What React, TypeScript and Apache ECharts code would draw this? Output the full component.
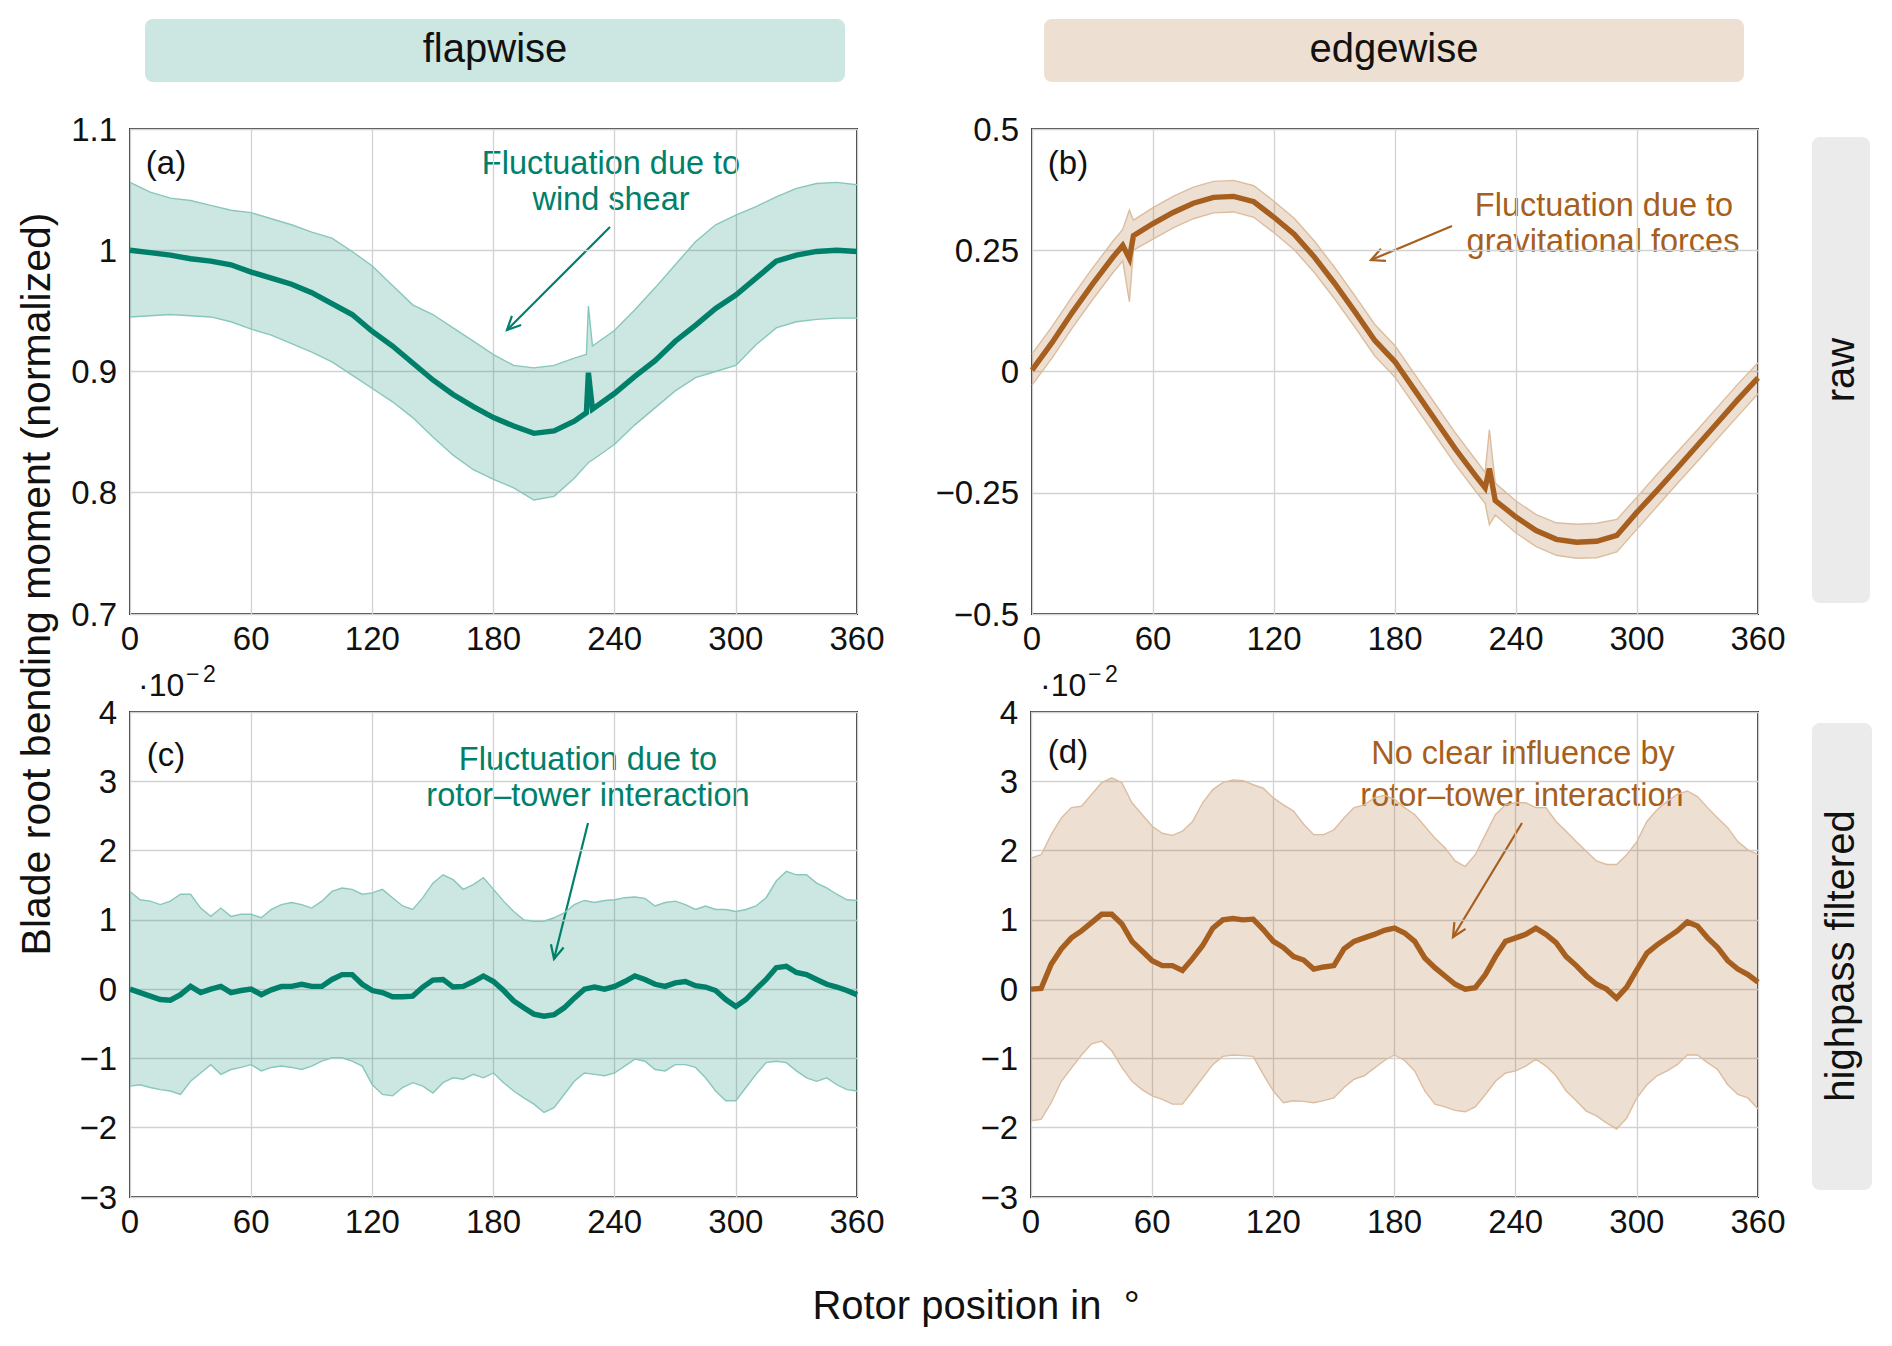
import React, { useEffect, useRef } from 'react';
import * as echarts from 'echarts';

// ---- data ----
const aAngles = [0, 10, 20, 30, 40, 50, 60, 70, 80, 90, 100, 110, 120, 130, 140, 150, 160, 170, 180, 190, 200, 210, 220, 226, 227, 229, 240, 250, 260, 270, 280, 290, 300, 310, 320, 330, 340, 350, 360];
const aMean = [1.0, 0.998, 0.996, 0.993, 0.991, 0.988, 0.982, 0.977, 0.972, 0.965, 0.956, 0.947, 0.933, 0.921, 0.907, 0.893, 0.881, 0.871, 0.862, 0.855, 0.849, 0.851, 0.859, 0.866, 0.899, 0.869, 0.882, 0.896, 0.909, 0.925, 0.938, 0.952, 0.963, 0.977, 0.991, 0.996, 0.999, 1.0, 0.999];
const aUpper = [1.056, 1.048, 1.043, 1.041, 1.037, 1.033, 1.031, 1.026, 1.021, 1.015, 1.01, 0.999, 0.987, 0.971, 0.955, 0.947, 0.936, 0.925, 0.914, 0.905, 0.903, 0.905, 0.911, 0.914, 0.954, 0.921, 0.934, 0.951, 0.969, 0.988, 1.007, 1.021, 1.029, 1.036, 1.044, 1.051, 1.055, 1.056, 1.054];
const aLower = [0.945, 0.946, 0.947, 0.946, 0.945, 0.941, 0.935, 0.93, 0.923, 0.916, 0.908, 0.897, 0.886, 0.875, 0.862, 0.846, 0.831, 0.819, 0.811, 0.804, 0.794, 0.797, 0.812, 0.823, 0.825, 0.827, 0.84, 0.856, 0.87, 0.884, 0.895, 0.9, 0.905, 0.922, 0.936, 0.941, 0.943, 0.944, 0.944];

const bAngles = [0, 10, 20, 30, 40, 45, 48.3, 50.3, 60, 70, 80, 90, 100, 110, 120, 130, 140, 150, 160, 170, 180, 190, 200, 210, 220, 224.7, 226.8, 229.7, 240, 250, 260, 270, 280, 290, 300, 310, 320, 330, 340, 350, 360];
const bMean = [0.003, 0.06, 0.122, 0.18, 0.235, 0.26, 0.233, 0.28, 0.305, 0.328, 0.347, 0.359, 0.361, 0.35, 0.318, 0.283, 0.236, 0.182, 0.124, 0.064, 0.02, -0.04, -0.1, -0.16, -0.215, -0.24, -0.2, -0.266, -0.3, -0.328, -0.346, -0.352, -0.35, -0.338, -0.29, -0.245, -0.199, -0.152, -0.105, -0.058, -0.013];
const bUpper = [0.036, 0.093, 0.155, 0.213, 0.268, 0.293, 0.333, 0.312, 0.338, 0.361, 0.38, 0.392, 0.394, 0.383, 0.351, 0.316, 0.269, 0.215, 0.157, 0.097, 0.053, -0.007, -0.067, -0.127, -0.182, -0.208, -0.12, -0.23, -0.267, -0.295, -0.312, -0.315, -0.313, -0.305, -0.259, -0.212, -0.166, -0.12, -0.073, -0.026, 0.018];
const bLower = [-0.028, 0.028, 0.09, 0.148, 0.203, 0.228, 0.144, 0.25, 0.273, 0.296, 0.315, 0.327, 0.329, 0.318, 0.286, 0.251, 0.204, 0.15, 0.092, 0.032, -0.012, -0.072, -0.132, -0.192, -0.247, -0.272, -0.316, -0.296, -0.333, -0.361, -0.379, -0.385, -0.384, -0.372, -0.325, -0.278, -0.231, -0.185, -0.138, -0.092, -0.046];

const cdAngles = [0, 5, 10, 15, 20, 25, 30, 35, 40, 45, 50, 55, 60, 65, 70, 75, 80, 85, 90, 95, 100, 105, 110, 115, 120, 125, 130, 135, 140, 145, 150, 155, 160, 165, 170, 175, 180, 185, 190, 195, 200, 205, 210, 215, 220, 225, 230, 235, 240, 245, 250, 255, 260, 265, 270, 275, 280, 285, 290, 295, 300, 305, 310, 315, 320, 325, 330, 335, 340, 345, 350, 355, 360];
// panel (c) and (d) values are in units of 1e-2
const cMean = [0.0, -0.05, -0.1, -0.15, -0.16, -0.08, 0.04, -0.05, 0.0, 0.04, -0.05, -0.02, 0.0, -0.08, -0.01, 0.04, 0.04, 0.07, 0.04, 0.04, 0.14, 0.21, 0.21, 0.07, -0.02, -0.05, -0.11, -0.11, -0.1, 0.03, 0.13, 0.14, 0.03, 0.04, 0.11, 0.19, 0.11, -0.02, -0.17, -0.27, -0.36, -0.39, -0.37, -0.27, -0.13, 0.0, 0.03, 0.0, 0.04, 0.11, 0.19, 0.14, 0.07, 0.04, 0.09, 0.11, 0.05, 0.03, -0.02, -0.15, -0.25, -0.15, 0.0, 0.14, 0.31, 0.33, 0.24, 0.21, 0.14, 0.07, 0.03, -0.02, -0.08];
const cUpper = [1.41, 1.29, 1.27, 1.22, 1.27, 1.37, 1.37, 1.17, 1.05, 1.17, 1.05, 1.08, 1.08, 1.03, 1.15, 1.22, 1.25, 1.22, 1.17, 1.27, 1.41, 1.46, 1.44, 1.37, 1.39, 1.44, 1.32, 1.2, 1.15, 1.32, 1.53, 1.65, 1.58, 1.44, 1.51, 1.61, 1.44, 1.27, 1.12, 1.0, 0.98, 0.98, 1.03, 1.1, 1.22, 1.28, 1.25, 1.28, 1.29, 1.32, 1.33, 1.31, 1.2, 1.25, 1.27, 1.22, 1.15, 1.2, 1.15, 1.15, 1.12, 1.15, 1.2, 1.32, 1.56, 1.7, 1.65, 1.65, 1.53, 1.46, 1.37, 1.29, 1.28];
const cLower = [-1.4, -1.38, -1.42, -1.45, -1.47, -1.52, -1.33, -1.21, -1.09, -1.23, -1.16, -1.13, -1.09, -1.18, -1.13, -1.11, -1.13, -1.16, -1.11, -1.04, -0.99, -0.99, -1.04, -1.11, -1.38, -1.52, -1.54, -1.42, -1.35, -1.4, -1.5, -1.35, -1.28, -1.3, -1.23, -1.28, -1.21, -1.35, -1.47, -1.57, -1.66, -1.78, -1.71, -1.52, -1.33, -1.21, -1.23, -1.25, -1.21, -1.11, -1.01, -1.04, -1.16, -1.18, -1.09, -1.09, -1.13, -1.28, -1.47, -1.61, -1.61, -1.42, -1.23, -1.06, -1.04, -1.06, -1.18, -1.28, -1.33, -1.28, -1.38, -1.45, -1.47];
const dMean = [0.0, 0.01, 0.36, 0.58, 0.74, 0.84, 0.96, 1.08, 1.08, 0.94, 0.69, 0.55, 0.41, 0.34, 0.34, 0.27, 0.44, 0.63, 0.88, 1.0, 1.02, 1.0, 1.01, 0.86, 0.69, 0.6, 0.47, 0.42, 0.29, 0.32, 0.34, 0.58, 0.69, 0.74, 0.79, 0.85, 0.88, 0.81, 0.69, 0.45, 0.31, 0.19, 0.07, 0.0, 0.02, 0.21, 0.47, 0.69, 0.74, 0.79, 0.88, 0.79, 0.67, 0.47, 0.34, 0.19, 0.07, 0.0, -0.13, 0.03, 0.28, 0.52, 0.64, 0.74, 0.84, 0.97, 0.91, 0.74, 0.6, 0.41, 0.29, 0.21, 0.1];
const dUpper = [1.89, 1.94, 2.23, 2.47, 2.62, 2.64, 2.81, 2.98, 3.05, 2.98, 2.69, 2.52, 2.35, 2.25, 2.22, 2.28, 2.42, 2.69, 2.88, 2.98, 3.02, 3.01, 2.95, 2.9, 2.76, 2.66, 2.57, 2.38, 2.23, 2.23, 2.3, 2.47, 2.62, 2.66, 2.76, 2.8, 2.74, 2.62, 2.52, 2.35, 2.18, 2.04, 1.85, 1.77, 1.94, 2.23, 2.52, 2.66, 2.69, 2.69, 2.62, 2.62, 2.42, 2.28, 2.13, 1.99, 1.85, 1.8, 1.8, 1.94, 2.13, 2.42, 2.59, 2.71, 2.81, 2.86, 2.78, 2.62, 2.47, 2.33, 2.13, 2.01, 1.94];
const dLower = [-1.9, -1.88, -1.64, -1.33, -1.14, -0.95, -0.79, -0.75, -0.89, -1.13, -1.33, -1.45, -1.54, -1.59, -1.66, -1.66, -1.47, -1.28, -1.09, -0.97, -0.95, -0.96, -0.97, -1.23, -1.47, -1.64, -1.61, -1.62, -1.64, -1.61, -1.57, -1.42, -1.3, -1.25, -1.14, -1.03, -0.95, -1.03, -1.18, -1.47, -1.66, -1.7, -1.75, -1.77, -1.7, -1.52, -1.33, -1.21, -1.18, -1.11, -1.01, -1.11, -1.25, -1.47, -1.61, -1.76, -1.83, -1.93, -2.02, -1.86, -1.57, -1.38, -1.25, -1.18, -1.09, -0.95, -0.95, -1.06, -1.16, -1.38, -1.52, -1.57, -1.73];

const xTicks = { min: 0, max: 360, interval: 60 };
const yTicksA = { min: 0.7, max: 1.1, interval: 0.1 };
const yTicksB = { min: -0.5, max: 0.5, interval: 0.25 };
const yTicksCD = { min: -3, max: 4, interval: 1 };

const FONT = "'Liberation Sans', Arial, Helvetica, sans-serif";
const TEAL = '#00806a';
const TEAL_FILL = 'rgba(0,128,106,0.2)';
const TEAL_EDGE = '#88c7bc';
const BROWN = '#a65f1e';
const BROWN_FILL = 'rgba(166,95,30,0.2)';
const BROWN_EDGE = '#dcbd9f';

const pts = (xs: number[], ys: number[]) => xs.map((x, i) => [x, ys[i]]);
const minusFmt = (v: number) => (v < 0 ? '\u2212' + String(Math.abs(v)) : String(v));

const bandSeries = (idx: number, xs: number[], lo: number[], hi: number[], fill: string, edge: string) => ({
  type: 'custom',
  xAxisIndex: idx,
  yAxisIndex: idx,
  data: [[0, 0]],
  silent: true,
  z: 1,
  renderItem: (_p: any, api: any) => {
    const up = xs.map((x, i) => api.coord([x, hi[i]]));
    const dn = xs.map((x, i) => api.coord([x, lo[i]]));
    return {
      type: 'group',
      children: [
        { type: 'polygon', shape: { points: up.concat(dn.slice().reverse()) }, style: { fill, stroke: 'none' } },
        { type: 'polyline', shape: { points: up }, style: { stroke: edge, lineWidth: 1.4, fill: 'none' } },
        { type: 'polyline', shape: { points: dn }, style: { stroke: edge, lineWidth: 1.4, fill: 'none' } },
      ],
    };
  },
});

const meanSeries = (idx: number, xs: number[], ys: number[], color: string) => ({
  type: 'line',
  xAxisIndex: idx,
  yAxisIndex: idx,
  data: pts(xs, ys),
  symbol: 'none',
  showSymbol: false,
  silent: true,
  z: 3,
  lineStyle: { color, width: 5.4, join: 'miter' },
});

const arrow = (x1: number, y1: number, x2: number, y2: number, color: string) => {
  const a = Math.atan2(y2 - y1, x2 - x1);
  const L = 15;
  const s = 0.45;
  return {
    type: 'group',
    children: [
      { type: 'line', shape: { x1, y1, x2, y2 }, style: { stroke: color, lineWidth: 2.2 } },
      {
        type: 'polyline',
        shape: {
          points: [
            [x2 - L * Math.cos(a - s), y2 - L * Math.sin(a - s)],
            [x2, y2],
            [x2 - L * Math.cos(a + s), y2 - L * Math.sin(a + s)],
          ],
        },
        style: { stroke: color, lineWidth: 2.2, fill: 'none' },
      },
    ],
  };
};

const txt = (x: number, y: number, text: string, size: number, color = '#111', extra: any = {}) => ({
  type: 'text',
  x,
  y,
  ...extra,
  style: { text, fontSize: size, fontFamily: FONT, fill: color, align: 'center', verticalAlign: 'middle', ...(extra.style || {}) },
});

const App: React.FC = () => {
  const chartRef = useRef<HTMLDivElement | null>(null);

  useEffect(() => {
    const chart = echarts.init(chartRef.current!, undefined, { renderer: 'svg' });

    const grids = [
      { left: 130, top: 129, width: 727, height: 485 },
      { left: 1032, top: 129, width: 726, height: 485 },
      { left: 130, top: 712, width: 727, height: 485 },
      { left: 1031, top: 712, width: 727, height: 485 },
    ].map((g) => ({ ...g, show: true, borderColor: '#3d3d3d', borderWidth: 2, backgroundColor: 'transparent' }));

    const axisLabel = { fontSize: 33, color: '#111', fontFamily: FONT };
    const splitLine = { show: true, lineStyle: { color: '#d2d2d2', width: 1.3 } };

    const xAxis = [0, 1, 2, 3].map((i) => ({
      type: 'value',
      gridIndex: i,
      ...xTicks,
      axisLine: { show: false },
      axisTick: { show: false },
      splitLine,
      axisLabel: { ...axisLabel, margin: 8 },
    }));

    const yRanges = [yTicksA, yTicksB, yTicksCD, yTicksCD];
    const yAxis = yRanges.map((r, i) => ({
      type: 'value',
      gridIndex: i,
      ...r,
      axisLine: { show: false },
      axisTick: { show: false },
      splitLine,
      axisLabel: { ...axisLabel, margin: 13, formatter: minusFmt },
    }));

    const graphic: any[] = [
      // column headers
      { type: 'rect', shape: { x: 145, y: 19, width: 700, height: 63, r: 8 }, style: { fill: '#cce6e1' } },
      txt(495, 48, 'flapwise', 40, '#111'),
      { type: 'rect', shape: { x: 1044, y: 19, width: 700, height: 63, r: 8 }, style: { fill: '#eddfd2' } },
      txt(1394, 48, 'edgewise', 40, '#111'),
      // row strips
      { type: 'rect', shape: { x: 1812, y: 137, width: 58, height: 466, r: 8 }, style: { fill: '#ebebeb' } },
      txt(1840, 370, 'raw', 40, '#111', { rotation: Math.PI / 2 }),
      { type: 'rect', shape: { x: 1812, y: 723, width: 60, height: 467, r: 8 }, style: { fill: '#ebebeb' } },
      txt(1840, 956, 'highpass filtered', 40, '#111', { rotation: Math.PI / 2 }),
      // axis titles
      txt(36, 584, 'Blade root bending moment (normalized)', 41, '#111', { rotation: Math.PI / 2 }),
      txt(976, 1305, 'Rotor position in  \u00b0', 40, '#111'),
      // panel tags
      txt(166, 162, '(a)', 33),
      txt(1068, 162, '(b)', 33),
      txt(166, 754, '(c)', 33),
      txt(1068, 751, '(d)', 33),
      // scale factors
      txt(138, 685, '\u00b710', 32, '#111', { style: { align: 'left' } }),
      txt(186, 674, '\u2212', 23, '#111', { style: { align: 'left' } }),
      txt(203, 674, '2', 23, '#111', { style: { align: 'left' } }),
      txt(1040, 685, '\u00b710', 32, '#111', { style: { align: 'left' } }),
      txt(1088, 674, '\u2212', 23, '#111', { style: { align: 'left' } }),
      txt(1105, 674, '2', 23, '#111', { style: { align: 'left' } }),
      // annotations
      txt(611, 163, 'Fluctuation due to', 32.5, TEAL),
      txt(611, 199, 'wind shear', 32.5, TEAL),
      arrow(610, 227, 507, 330, TEAL),
      txt(1604, 205, 'Fluctuation due to', 32.5, BROWN),
      txt(1603, 241, 'gravitational forces', 32.5, BROWN),
      arrow(1452, 226, 1371, 260, BROWN),
      txt(588, 759, 'Fluctuation due to', 32.5, TEAL),
      txt(588, 795, 'rotor\u2013tower interaction', 32.5, TEAL),
      arrow(588, 823, 554, 959, TEAL),
      txt(1523, 753, 'No clear influence by', 32.5, BROWN),
      txt(1522, 795, 'rotor\u2013tower interaction', 32.5, BROWN),
      arrow(1522, 823, 1453, 937, BROWN),
    ];

    const option: any = {
      animation: false,
      textStyle: { fontFamily: FONT },
      grid: grids,
      xAxis,
      yAxis,
      series: [
        bandSeries(0, aAngles, aLower, aUpper, TEAL_FILL, TEAL_EDGE),
        meanSeries(0, aAngles, aMean, TEAL),
        bandSeries(1, bAngles, bLower, bUpper, BROWN_FILL, BROWN_EDGE),
        meanSeries(1, bAngles, bMean, BROWN),
        bandSeries(2, cdAngles, cLower, cUpper, TEAL_FILL, TEAL_EDGE),
        meanSeries(2, cdAngles, cMean, TEAL),
        bandSeries(3, cdAngles, dLower, dUpper, BROWN_FILL, BROWN_EDGE),
        meanSeries(3, cdAngles, dMean, BROWN),
      ],
      graphic,
    };

    chart.setOption(option);

    return () => {
      chart.dispose();
    };
  }, []);

  return <div ref={chartRef} style={{ position: 'absolute', left: 0, top: 0, width: '1892px', height: '1346px' }} />;
};

export default App;
